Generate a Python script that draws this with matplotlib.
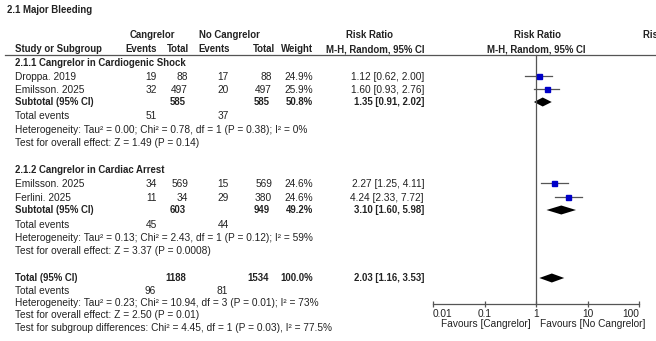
import numpy as np
import matplotlib.pyplot as plt
from matplotlib.patches import Polygon

plt.rcParams['font.family'] = ['Liberation Sans', 'DejaVu Sans']

# 2.1.1 Cangrelor in Cardiogenic Shock
estudos_1 = ['Droppa. 2019', 'Emilsson. 2025']
ev_cang_1 = [19, 32]
tot_cang_1 = [88, 497]
ev_sem_1 = [17, 20]
tot_sem_1 = [88, 497]
peso_1 = [24.9, 25.9]
rr_1 = [1.12, 1.60]
li_1 = [0.62, 0.93]
ls_1 = [2.00, 2.76]
sub_1 = {'tot_cang': 585, 'tot_sem': 585, 'peso': 50.8, 'rr': 1.35, 'li': 0.91, 'ls': 2.02,
         'ev_cang': 51, 'ev_sem': 37}
het_1 = 'Heterogeneity: Tau² = 0.00; Chi² = 0.78, df = 1 (P = 0.38); I² = 0%'
efeito_1 = 'Test for overall effect: Z = 1.49 (P = 0.14)'

# 2.1.2 Cangrelor in Cardiac Arrest
estudos_2 = ['Emilsson. 2025', 'Ferlini. 2025']
ev_cang_2 = [34, 11]
tot_cang_2 = [569, 34]
ev_sem_2 = [15, 29]
tot_sem_2 = [569, 380]
peso_2 = [24.6, 24.6]
rr_2 = [2.27, 4.24]
li_2 = [1.25, 2.33]
ls_2 = [4.11, 7.72]
sub_2 = {'tot_cang': 603, 'tot_sem': 949, 'peso': 49.2, 'rr': 3.10, 'li': 1.60, 'ls': 5.98,
         'ev_cang': 45, 'ev_sem': 44}
het_2 = 'Heterogeneity: Tau² = 0.13; Chi² = 2.43, df = 1 (P = 0.12); I² = 59%'
efeito_2 = 'Test for overall effect: Z = 3.37 (P = 0.0008)'

# Total
total = {'tot_cang': 1188, 'tot_sem': 1534, 'peso': 100.0, 'rr': 2.03, 'li': 1.16, 'ls': 3.53,
         'ev_cang': 96, 'ev_sem': 81}
het_t = 'Heterogeneity: Tau² = 0.23; Chi² = 10.94, df = 3 (P = 0.01); I² = 73%'
efeito_t = 'Test for overall effect: Z = 2.50 (P = 0.01)'
subgrupos = 'Test for subgroup differences: Chi² = 4.45, df = 1 (P = 0.03), I² = 77.5%'

ticks = [0.01, 0.1, 1, 10, 100]
tick_labels = ['0.01', '0.1', '1', '10', '100']

W, H = 656, 341
fs = 7.3      # texto normal
fs_b = 6.9    # negrito
cor = '#222222'
azul = '#0000c8'
cinza = '#555555'

fig = plt.figure(figsize=(W / 100, H / 100), dpi=100)
ax = fig.add_axes([0, 0, 1, 1])
ax.set_xlim(0, W)
ax.set_ylim(H, 0)
ax.axis('off')

# eixo do forest plot: 0.01 -> x=433, 100 -> x=639
x0, x1 = 433, 639
fp = fig.add_axes([x0 / W, 0, (x1 - x0) / W, 1])
fp.set_xscale('log')
fp.set_xlim(0.01, 100)
fp.set_ylim(H, 0)
fp.patch.set_alpha(0)
for s in ['top', 'left', 'right']:
    fp.spines[s].set_visible(False)
fp.spines['bottom'].set_position(('data', 304))
fp.spines['bottom'].set_color(cinza)
fp.spines['bottom'].set_linewidth(0.9)
fp.set_yticks([])
fp.set_xticks(ticks)
fp.set_xticklabels(tick_labels)
fp.xaxis.set_minor_locator(plt.NullLocator())
fp.tick_params(axis='x', direction='inout', length=5, width=0.9, color=cinza,
               labelsize=fs, labelcolor=cor, pad=1)
rot = fp.get_xticklabels()
rot[0].set_ha('left')
rot[-1].set_ha('right')


def txt(x, y, s, ha='left', bold=False):
    ax.text(x, y, s, ha=ha, va='center', fontsize=fs_b if bold else fs, color=cor,
            fontweight='bold' if bold else 'normal')


# colunas (borda direita)
c_ev, c_tot, s_ev, s_tot, c_peso, c_rr = 157, 188, 229, 272, 313, 424

txt(7, 10, '2.1 Major Bleeding', bold=True)
txt(152, 35, 'Cangrelor', ha='center', bold=True)
txt(229, 35, 'No Cangrelor', ha='center', bold=True)
txt(370, 35, 'Risk Ratio', ha='center', bold=True)
txt(537, 35, 'Risk Ratio', ha='center', bold=True)
txt(643, 35, 'Risk Ratio', bold=True)
txt(15, 49, 'Study or Subgroup', bold=True)
txt(c_ev, 49, 'Events', ha='right', bold=True)
txt(c_tot + 1, 49, 'Total', ha='right', bold=True)
txt(s_ev + 1, 49, 'Events', ha='right', bold=True)
txt(s_tot + 3, 49, 'Total', ha='right', bold=True)
txt(c_peso, 49, 'Weight', ha='right', bold=True)
txt(c_rr, 49, 'M-H, Random, 95% CI', ha='right', bold=True)
txt(536, 49, 'M-H, Random, 95% CI', ha='center', bold=True)
ax.plot([5, W], [55, 55], color=cinza, lw=0.9)

# linha de nulidade
fp.plot([1, 1], [55, 304], color=cinza, lw=0.9)


def diamante(rr, li, ls, y, h=4.5):
    fp.add_patch(Polygon([(li, y), (rr, y - h), (ls, y), (rr, y + h)],
                         closed=True, color='black', lw=0))


def grupo(titulo, estudos, ev_c, tot_c, ev_s, tot_s, peso, rr, li, ls, sub, het, efeito, ys):
    txt(15, ys[0], titulo, bold=True)
    for i in range(len(estudos)):
        y = ys[1 + i]
        txt(15, y, estudos[i])
        txt(c_ev, y, str(ev_c[i]), ha='right')
        txt(c_tot, y, str(tot_c[i]), ha='right')
        txt(s_ev, y, str(ev_s[i]), ha='right')
        txt(s_tot, y, str(tot_s[i]), ha='right')
        txt(c_peso, y, f'{peso[i]:.1f}%', ha='right')
        txt(c_rr, y, f'{rr[i]:.2f} [{li[i]:.2f}, {ls[i]:.2f}]', ha='right')
        fp.plot([li[i], ls[i]], [y - 1, y - 1], color=cinza, lw=0.9)
        fp.plot(rr[i], y - 1, marker='s', ms=3.6, color=azul, mec=azul)
    y = ys[3]
    txt(15, y, 'Subtotal (95% CI)', bold=True)
    txt(c_tot - 2, y, str(sub['tot_cang']), ha='right', bold=True)
    txt(s_tot - 2, y, str(sub['tot_sem']), ha='right', bold=True)
    txt(c_peso, y, f"{sub['peso']:.1f}%", ha='right', bold=True)
    txt(c_rr, y, f"{sub['rr']:.2f} [{sub['li']:.2f}, {sub['ls']:.2f}]", ha='right', bold=True)
    diamante(sub['rr'], sub['li'], sub['ls'], y)
    txt(15, ys[4], 'Total events')
    txt(c_ev, ys[4], str(sub['ev_cang']), ha='right')
    txt(s_ev, ys[4], str(sub['ev_sem']), ha='right')
    txt(15, ys[5], het)
    txt(15, ys[6], efeito)


grupo('2.1.1 Cangrelor in Cardiogenic Shock', estudos_1, ev_cang_1, tot_cang_1, ev_sem_1,
      tot_sem_1, peso_1, rr_1, li_1, ls_1, sub_1, het_1, efeito_1,
      [63, 77, 90, 102, 116, 130, 143])
grupo('2.1.2 Cangrelor in Cardiac Arrest', estudos_2, ev_cang_2, tot_cang_2, ev_sem_2,
      tot_sem_2, peso_2, rr_2, li_2, ls_2, sub_2, het_2, efeito_2,
      [170, 184, 198, 210, 225, 238, 251])

# Total geral
y = 278
txt(15, y, 'Total (95% CI)', bold=True)
txt(c_tot - 2, y, str(total['tot_cang']), ha='right', bold=True)
txt(s_tot - 3, y, str(total['tot_sem']), ha='right', bold=True)
txt(c_peso, y, f"{total['peso']:.1f}%", ha='right', bold=True)
txt(c_rr, y, f"{total['rr']:.2f} [{total['li']:.2f}, {total['ls']:.2f}]", ha='right', bold=True)
diamante(total['rr'], total['li'], total['ls'], y)
txt(15, 291, 'Total events')
txt(c_ev - 1, 291, str(total['ev_cang']), ha='right')
txt(s_ev - 1, 291, str(total['ev_sem']), ha='right')
txt(15, 303, het_t)
txt(15, 315, efeito_t)
txt(15, 328, subgrupos)

txt(531, 324, 'Favours [Cangrelor]', ha='right')
txt(540, 324, 'Favours [No Cangrelor]')

fig.savefig('out.png', dpi=100)
